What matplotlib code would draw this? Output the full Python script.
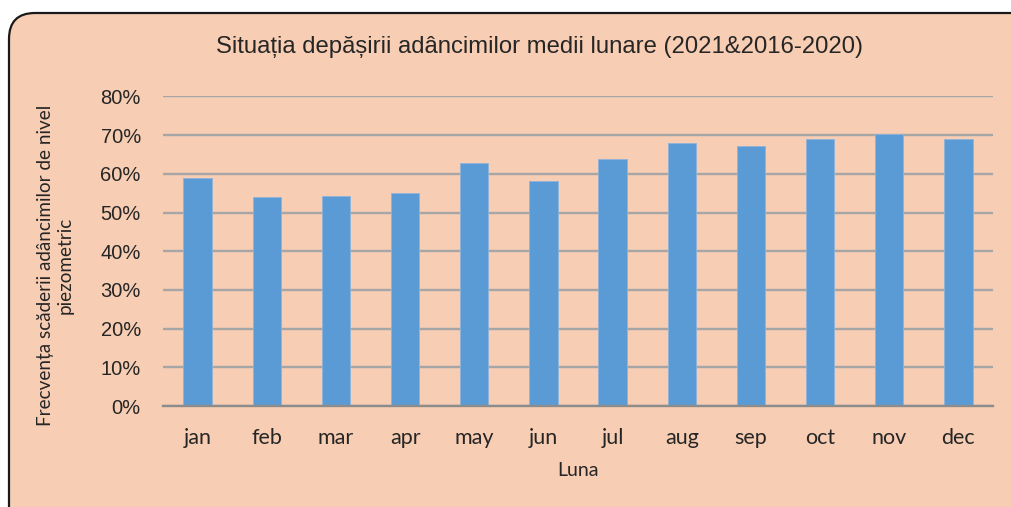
import matplotlib.pyplot as plt
from matplotlib.patches import FancyBboxPatch
from matplotlib.ticker import PercentFormatter

months = ['jan', 'feb', 'mar', 'apr', 'may', 'jun', 'jul', 'aug', 'sep', 'oct', 'nov', 'dec']
freq = [0.590, 0.539, 0.543, 0.551, 0.627, 0.581, 0.639, 0.679, 0.673, 0.689, 0.702, 0.689]
yticks = [0, 0.1, 0.2, 0.3, 0.4, 0.5, 0.6, 0.7, 0.8]

bg = '#F7CDB3'
bar_color = '#5B9BD5'
grid_color = '#A6A6A6'
text_color = '#262626'

fig = plt.figure(figsize=(10.11, 5.07), dpi=100, facecolor='white')

# rounded chart-area frame (pixel coords), drawn behind the axes
frame = FancyBboxPatch((9, -60), 1080, 494 + 60, boxstyle='round,pad=0,rounding_size=26',
                       transform=None, facecolor=bg, edgecolor='#1a1a1a', linewidth=1.6,
                       zorder=-10)
fig.patches.append(frame)

ax = fig.add_axes([0.1612, 0.1992, 0.821, 0.6105])
ax.set_facecolor('none')

x = range(len(months))
ax.bar(x, freq, width=0.41, color=bar_color, edgecolor='#8FB4DA', linewidth=0.6, zorder=3)

ax.set_ylim(0, 0.8)
ax.set_xlim(-0.5, len(months) - 0.5)
ax.set_yticks(yticks)
ax.yaxis.set_major_formatter(PercentFormatter(1.0, decimals=0))
ax.set_xticks(list(x))
ax.set_xticklabels(months)

ax.grid(axis='y', color=grid_color, linewidth=1.7, zorder=0)
for s in ['top', 'right', 'left']:
    ax.spines[s].set_visible(False)
ax.spines['bottom'].set_color('#8C8C8C')
ax.spines['bottom'].set_linewidth(1.7)
ax.spines['bottom'].set_zorder(4)

ax.tick_params(axis='both', length=0, colors=text_color)
ax.tick_params(axis='y', pad=16, labelsize=14.5)
ax.tick_params(axis='x', pad=16, labelsize=15.5)
for lbl in ax.get_yticklabels():
    lbl.set_fontfamily('Liberation Sans')
for lbl in ax.get_xticklabels():
    lbl.set_fontfamily('Lato')

ax.set_xlabel('Luna', fontsize=14, family='Lato', color=text_color, labelpad=10)

fig.text(540 / 1011, 1 - 47 / 507,
         'Situația depășirii adâncimilor medii lunare (2021&2016-2020)',
         ha='center', va='center', fontsize=17.2, family='Liberation Sans', color=text_color)

fig.text(55 / 1011, 1 - 265 / 507,
         'Frecvența scăderii adâncimilor de nivel\npiezometric',
         rotation=90, ha='center', va='center', multialignment='center',
         fontsize=13.6, family='Lato', color=text_color, linespacing=1.2)

fig.savefig('out.png', dpi=100, facecolor='white')
